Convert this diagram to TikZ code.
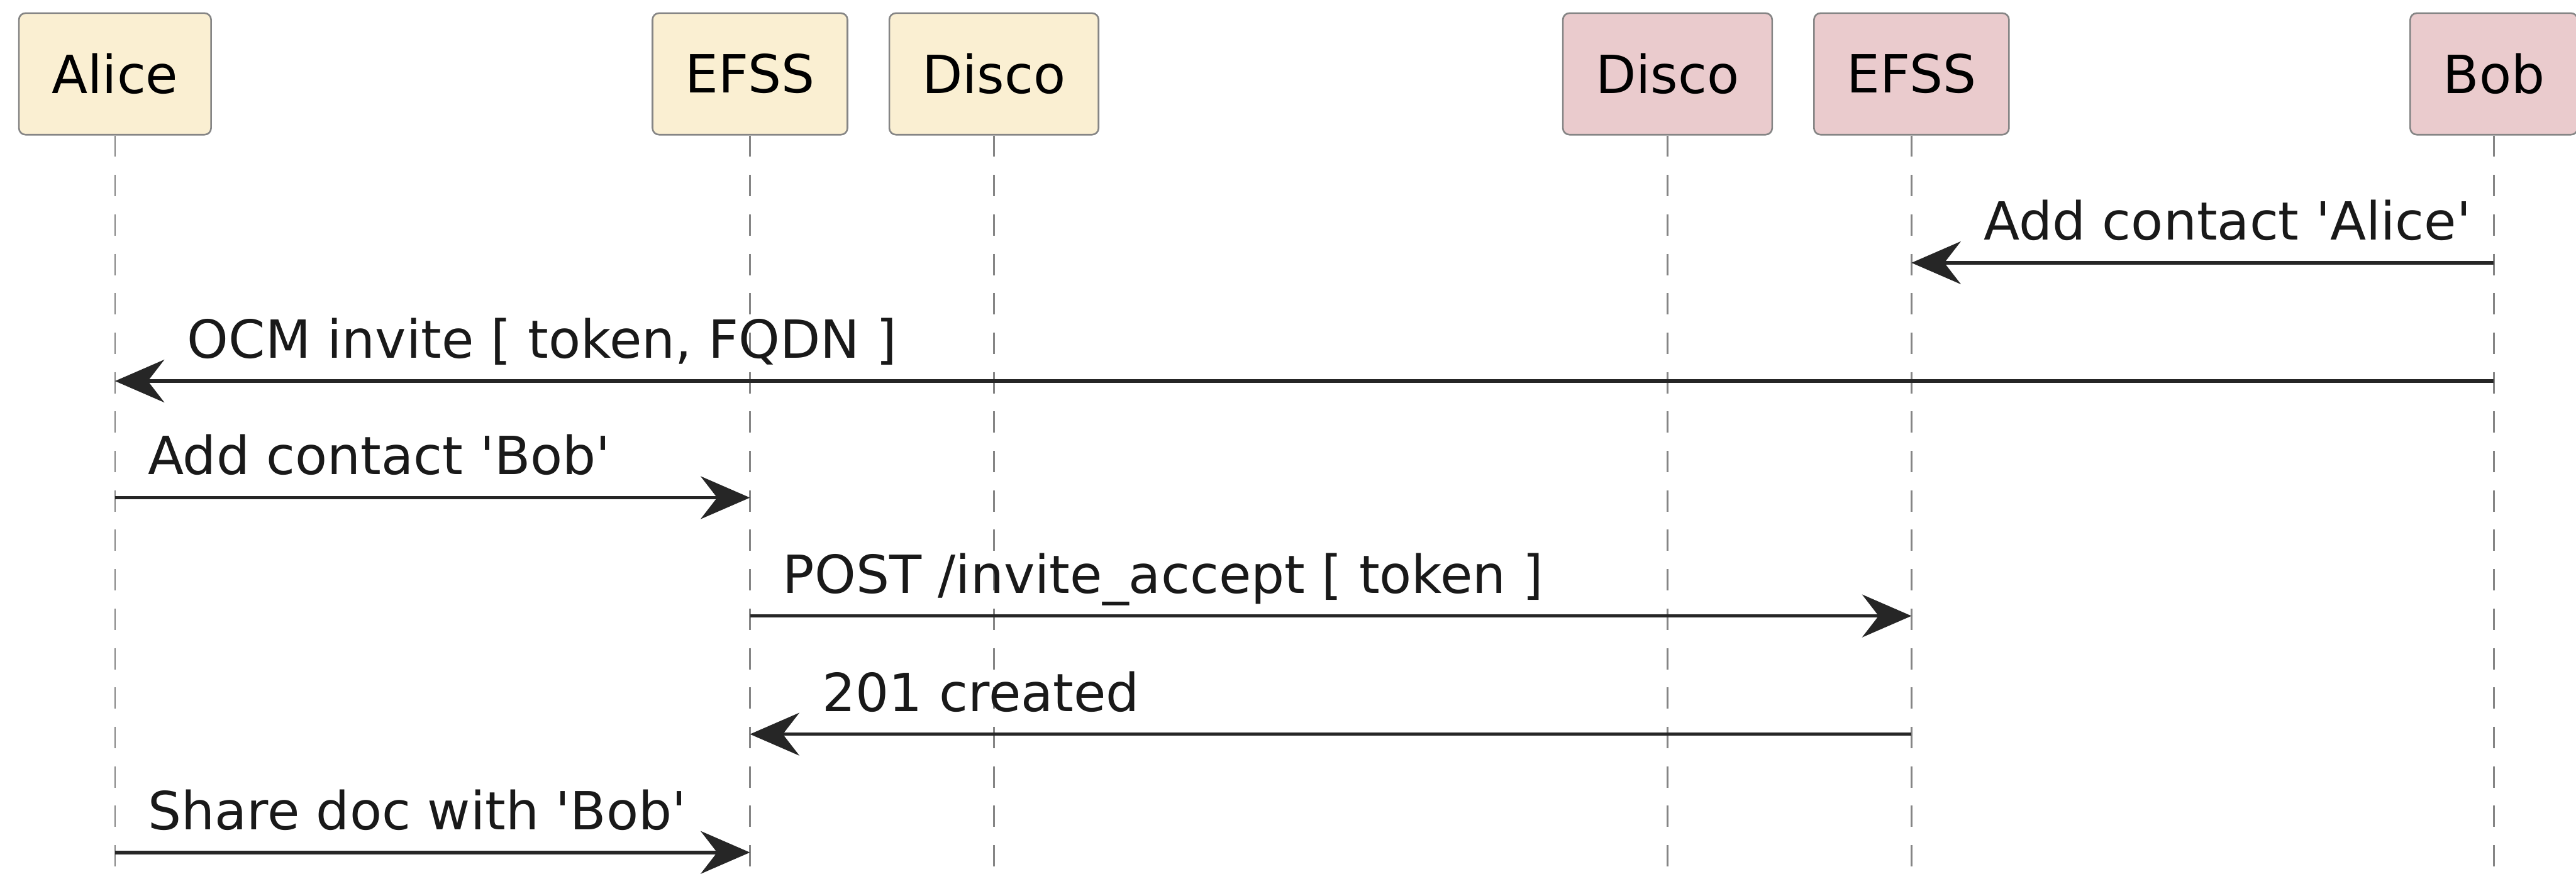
\documentclass[tikz,border=0pt]{standalone}
\usepackage{fontspec}
\setmainfont{DejaVu Sans}
\usepackage{tikz}
\usetikzlibrary{arrows.meta}
\definecolor{homefill}{HTML}{FAEFD2}
\definecolor{peerfill}{HTML}{EACBCD}
\definecolor{lifegray}{HTML}{858585}
\newcommand{\sq}{\textquotesingle}
\tikzstyle{actor}=[draw=lifegray,line width=1pt,rounded corners=4pt,minimum height=74pt,inner xsep=20pt,font=\fontsize{32}{38}\selectfont]

\begin{document}
\begin{tikzpicture}[x=1pt,y=-1pt]

\tikzstyle{home}=[actor,fill=homefill]
\tikzstyle{peer}=[actor,fill=peerfill]
\tikzstyle{life}=[draw=lifegray,line width=1pt,dash pattern=on 13pt off 11pt]
\tikzstyle{msg}=[-{Stealth[length=30pt,width=26pt,inset=10pt]},line width=2.1pt,draw=black!85]
\tikzstyle{lbl}=[font=\fontsize{32}{38}\selectfont,inner sep=0pt,text=black!90]

\useasboundingbox (0,0) rectangle (1568,535);

\node (alice)  [home] at (70,45)     {Alice};
\node (efssA)  [home] at (456.5,45)  {EFSS};
\node (discoA) [home] at (605,45)    {Disco};
\node (discoB) [peer] at (1015,45)   {Disco};
\node (efssB)  [peer] at (1163.5,45) {EFSS};
\node (bob)    [peer] at (1518,45)   {Bob};

\foreach \p in {alice,efssA,discoA,discoB,efssB,bob}
  \draw [life] (\p.south) -- (\p.south |- 0,535);

\draw [msg] (bob |- 0,160) -- (efssB |- 0,160)
  node[lbl,at end,anchor=base west,xshift=43pt,yshift=14pt] {Add contact \sq Alice\sq};
\draw [msg] (bob |- 0,232) -- (alice |- 0,232)
  node[lbl,at end,anchor=base west,xshift=43pt,yshift=14pt] {OCM invite [ token, FQDN ]};
\draw [msg] (alice |- 0,303) -- (efssA |- 0,303)
  node[lbl,pos=0,anchor=base west,xshift=19pt,yshift=14pt] {Add contact \sq Bob\sq};
\draw [msg] (efssA |- 0,375) -- (efssB |- 0,375)
  node[lbl,pos=0,anchor=base west,xshift=19pt,yshift=14pt] {POST /invite\_accept [ token ]};
\draw [msg] (efssB |- 0,447) -- (efssA |- 0,447)
  node[lbl,at end,anchor=base west,xshift=43pt,yshift=14pt] {201 created};
\draw [msg] (alice |- 0,519) -- (efssA |- 0,519)
  node[lbl,pos=0,anchor=base west,xshift=19pt,yshift=14pt] {Share doc with \sq Bob\sq};

\end{tikzpicture}
\end{document}
